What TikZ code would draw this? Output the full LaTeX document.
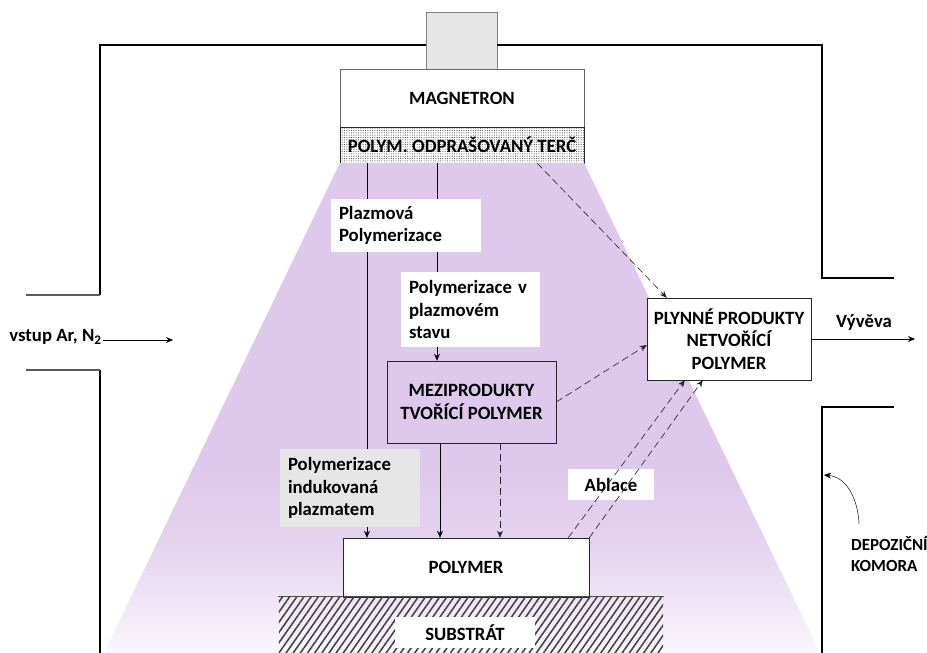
\documentclass[tikz,border=0pt]{standalone}
\usepackage{fontspec}
\setmainfont{Carlito}
\usetikzlibrary{positioning,arrows.meta,patterns,patterns.meta,calc}

\definecolor{plasma}{RGB}{222,200,235}
\definecolor{capgrey}{RGB}{230,230,230}

\pgfdeclareverticalshading{plasmafade}{100bp}{color(0bp)=(plasma!15); color(25bp)=(plasma!15); color(36bp)=(plasma!80); color(44bp)=(plasma); color(100bp)=(plasma)}

\begin{document}
\begin{tikzpicture}[
    x=0.03cm, y=-0.03cm,
    font=\bfseries\fontsize{16}{19}\selectfont,
    >={Stealth[length=6pt,width=5pt]},
    wall/.style={line width=2.4pt, line join=miter},
    stub/.style={line width=1.3pt, draw=black!65},
    proc_box/.style={draw=black!85, rectangle, align=center, inner sep=2pt},
    note_box/.style={fill=white, rectangle, align=left, inner xsep=0.24cm, inner ysep=2pt},
    small_text/.style={font=\bfseries\fontsize{14.5}{18}\selectfont},
    flow/.style={->, thin, black},
    gasflow/.style={->, line width=0.55pt, black!85, dashed, dash pattern=on 6pt off 3.5pt}
]

\useasboundingbox (0,0) rectangle (927,653);

% magnetron a terc
\node[proc_box, fill=capgrey, draw=black!50, minimum width=2.13cm, minimum height=1.71cm] (cap) at (461.5,40.5) {};
\node[proc_box, fill=white, draw=black!60, minimum width=7.32cm, minimum height=1.74cm] (mag) at (462,98) {MAGNETRON};
\node[proc_box, pattern={Dots[distance=2pt, radius=0.45pt]}, pattern color=black!75, minimum width=7.32cm, minimum height=1.08cm] (tgt) at (462,145) {};
\node at (tgt) {POLYM. ODPRAŠOVANÝ TERČ};

% plazma
\shade[shading=plasmafade] (tgt.south west) -- (tgt.south east) -- (820,653) -- (104,653) -- cycle;

% komora
\draw[wall] (100,295) -- (100,45) -- (cap.west |- 0,45);
\draw[wall] (cap.east |- 0,45) -- (822,45) -- (822,278) -- (894,278);
\draw[wall] (894,407) -- (822,407) -- (822,660);
\draw[wall] (100,660) -- (100,370);
\draw[stub] (26,295) -- (100,295);
\draw[stub] (26,370) -- (100,370);

\coordinate (colA) at (367,0);
\coordinate (colB) at (437,0);
\coordinate (colC) at (440,0);
\coordinate (colD) at (500,0);

% svisle toky (pod popisky)
\draw[thin] (tgt.south -| colA) -- (colA |- 0,449);
\draw[thin] (tgt.south -| colB) -- (colB |- 0,272);

\node[note_box, text width=4.02cm, minimum height=1.59cm] (plaz) at (406,225.5) {Plazmová\\Polymerizace};
\node[note_box, text width=3.69cm, minimum height=2.25cm] (pv) at (470.5,309.5) {Polymerizace v\\plazmovém\\stavu};
\node[proc_box, minimum width=5.07cm, minimum height=2.46cm] (mezi) at (471.5,402) {MEZIPRODUKTY\\TVOŘÍCÍ POLYMER};
\node[note_box, fill=capgrey, text width=3.72cm, minimum height=2.34cm] (ind) at (350,488) {Polymerizace\\indukovaná\\plazmatem};
\node[proc_box, fill=white, minimum width=7.38cm, minimum height=1.77cm] (poly) at (466,567.5) {POLYMER};
\node[proc_box, fill=white, minimum width=4.92cm, minimum height=2.46cm] (gas) at (729,339) {PLYNNÉ PRODUKTY\\NETVOŘÍCÍ\\POLYMER};
\node[note_box, align=center, minimum width=2.58cm, minimum height=0.93cm] (abl) at (611,484.5) {Ablace};

% substrat
\node[pattern={Lines[angle=55, distance=5pt, line width=1.3pt]}, pattern color=black!75, minimum width=11.52cm, minimum height=1.98cm, inner sep=0pt] (sub) at (471,630) {};
\draw[black!70] (sub.north west) -- (sub.north east);
\node[fill=white, minimum width=4.2cm, minimum height=0.93cm, inner sep=0pt] (sublab) at (465,632.5) {SUBSTRÁT};

\draw[flow] (ind.south -| colA) -- (poly.north -| colA);
\draw[flow] (pv.south -| colB) -- (mezi.north -| colB);
\draw[flow] (mezi.south -| colC) -- (poly.north -| colC);
\draw[gasflow] (mezi.south -| colD) -- (poly.north -| colD);

% plynne produkty
\draw[gasflow] ($(tgt.south east)+(-47,0)$) -- ($(gas.north west)+(20,0)$);
\draw[gasflow] (mezi.east) -- ($(gas.west)+(0,6)$);
\draw[gasflow] ($(poly.north east)+(-21,0)$) -- ($(gas.south west)+(38,0)$);
\draw[gasflow] (poly.north east) -- ($(gas.south west)+(56,0)$);

% vstup a vyveva
\node[anchor=east, inner sep=1pt] (vstup) at (103,337) {vstup Ar, N\textsubscript{2}};
\coordinate (inlet) at (173,340);
\draw[flow] (vstup.east |- inlet) -- (inlet);
\coordinate (pump) at (915,339);
\draw[flow] (gas.east) -- (pump);
\node (vyv) at (864,323) {Vývěva};

% komora popis
\node[small_text, align=left, anchor=west] (kom) at (847,554) {DEPOZIČNÍ\\KOMORA};
\coordinate (wallpt) at (824,475);
\draw[flow] ($(kom.north west)+(12,-8)$) to[out=92, in=-5] (wallpt);

\end{tikzpicture}
\end{document}
